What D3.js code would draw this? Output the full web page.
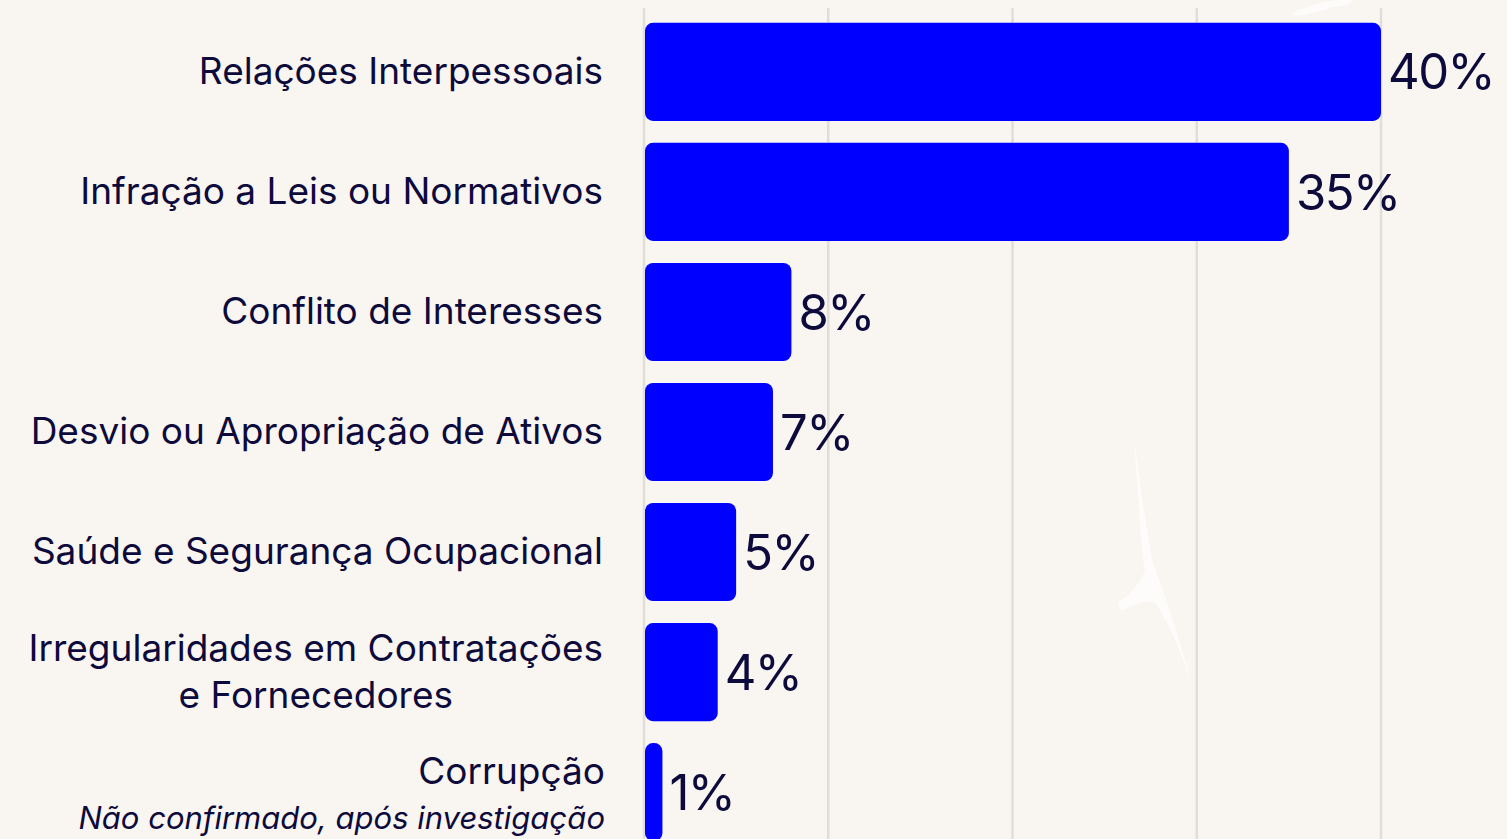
<!DOCTYPE html>
<html>
<head>
<meta charset="utf-8">
<script src="https://cdn.jsdelivr.net/npm/d3@7"></script>
<style>
  html, body { margin: 0; padding: 0; background: #f9f5f1; overflow: hidden; }
  text { font-family: Inter, "Noto Sans", sans-serif; }
</style>
</head>
<body>
<div id="chart"></div>
<script>
const w = 1507;
const h = 839;

// data
const categories = [
  "Relações Interpessoais",
  "Infração a Leis ou Normativos",
  "Conflito de Interesses",
  "Desvio ou Apropriação de Ativos",
  "Saúde e Segurança Ocupacional",
  "Irregularidades em Contratações\ne Fornecedores",
  "Corrupção"
];
const values = [40, 35, 8, 7, 5, 4, 1];
const notes = ["", "", "", "", "", "", "Não confirmado, após investigação"];
const gridTicks = [0, 10, 20, 30, 40];

const ink = "#0d0a3c";

let x = d3.scaleLinear().domain([0, 40]).range([644, 1381]);
let y = d3
  .scaleBand()
  .domain(categories)
  .range([12, 852])
  .paddingInner(0.183)
  .paddingOuter(0.09);

let svg = d3
  .select("#chart")
  .append("svg")
  .attr("width", w)
  .attr("height", h);

svg.append("rect").attr("width", w).attr("height", h).attr("fill", "#f9f5f1");

// faint decoration in the background
svg
  .append("path")
  .attr("d", "M1134,437 C1140,520 1142,560 1145,570 C1140,585 1128,595 1119,602 C1118,608 1121,612 1124,610 C1135,604 1150,598 1156,604 C1170,625 1185,660 1194,692 C1180,640 1162,585 1152,560 C1145,520 1138,470 1134,437 Z")
  .attr("fill", "#fdfcfb");
svg
  .append("path")
  .attr("d", "M1292,14 C1305,6 1325,0 1345,0 L1352,0 C1350,8 1342,4 1330,8 C1315,13 1300,18 1292,14 Z")
  .attr("fill", "#fdfcfb");

// grid
svg
  .selectAll("line.grid")
  .data(gridTicks)
  .enter()
  .append("line")
  .attr("class", "grid")
  .attr("x1", d => x(d))
  .attr("x2", d => x(d))
  .attr("y1", 8)
  .attr("y2", h)
  .attr("stroke", "#e1deda")
  .attr("stroke-width", 2.5);

// bars
svg
  .selectAll("rect.bar")
  .data(categories)
  .enter()
  .append("rect")
  .attr("class", "bar")
  .attr("x", x(0) + 1)
  .attr("y", d => y(d))
  .attr("width", (d, i) => x(values[i]) - x(0) - 1)
  .attr("height", y.bandwidth())
  .attr("rx", 8)
  .attr("ry", 8)
  .attr("fill", "#0000ff");

// value labels
svg
  .selectAll("text.val")
  .data(categories)
  .enter()
  .append("text")
  .attr("class", "val")
  .text((d, i) => values[i] + "%")
  .attr("x", (d, i) => x(values[i]) + 7)
  .attr("y", d => y(d) + y.bandwidth() / 2)
  .attr("dy", "0.36em")
  .attr("fill", ink)
  .attr("font-size", 49)
  .attr("letter-spacing", -1.5);

// category labels
let labels = svg
  .selectAll("g.lab")
  .data(categories)
  .enter()
  .append("g")
  .attr("class", "lab");

labels.each(function (d, i) {
  let g = d3.select(this);
  let cy = y(d) + y.bandwidth() / 2;
  let lines = d.split("\n");
  if (lines.length > 1) {
    let t = g
      .append("text")
      .attr("fill", ink)
      .attr("font-size", 37)
      .attr("text-anchor", "middle");
    lines.forEach((l, k) => {
      t.append("tspan")
        .attr("x", 0)
        .attr("y", cy + (k - (lines.length - 1) / 2) * 47)
        .attr("dy", "0.33em")
        .text(l);
    });
    let bb = t.node().getBBox();
    t.attr("transform", `translate(${603 - bb.width / 2},0)`);
  } else if (notes[i]) {
    g.append("text")
      .attr("x", 605)
      .attr("y", cy - 20)
      .attr("dy", "0.33em")
      .attr("text-anchor", "end")
      .attr("fill", ink)
      .attr("font-size", 37)
      .text(d);
    g.append("text")
      .attr("x", 605)
      .attr("y", cy + 27)
      .attr("dy", "0.33em")
      .attr("text-anchor", "end")
      .attr("fill", ink)
      .attr("font-size", 31)
      .attr("font-style", "italic")
      .text(notes[i]);
  } else {
    g.append("text")
      .attr("x", 603)
      .attr("y", cy)
      .attr("dy", "0.33em")
      .attr("text-anchor", "end")
      .attr("fill", ink)
      .attr("font-size", 37)
      .text(d);
  }
});
</script>
</body>
</html>
